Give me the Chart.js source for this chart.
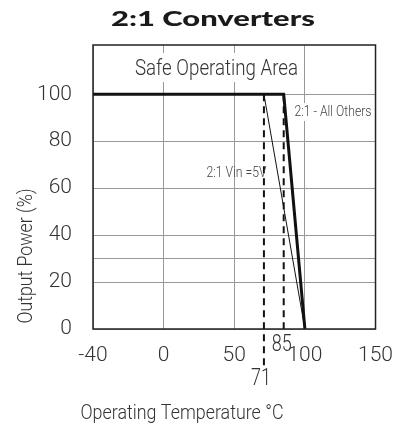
<!DOCTYPE html>
<html>
<head>
<meta charset="utf-8">
<script src="https://cdn.jsdelivr.net/npm/chart.js@4.4.0/dist/chart.umd.min.js"></script>
<style>
  html, body { margin: 0; padding: 0; background: #fff; }
  #wrap { width: 407px; height: 428px; }
</style>
</head>
<body>
<div id="wrap"><canvas id="soa"></canvas></div>
<script>
// tick values on the temperature axis (evenly spaced in the original picture)
const xTicks = [-40, 0, 50, 100, 150];
const yTicks = [0, 20, 30, 40, 60, 80, 100];
const yLabels = ["0", "20", "", "40", "60", "80", "100"];

// derating curves
const allOthersTemp = [-40, 85, 100];
const allOthersPower = [100, 100, 0];
const vin5Temp = [71, 100];
const vin5Power = [100, 0];

// dashed markers
const markerTemp = [71, 85];
const markerBottom = [-16, 0];

const thin = "Roboto, 'DejaVu Sans Condensed', sans-serif";

// linear scale whose ticks are spaced evenly, like the datasheet drawing
class PiecewiseScale extends Chart.LinearScale {
  getPixelForValue(value) {
    let n = xTicks.length - 1;
    let dec;
    if (value <= xTicks[0]) {
      dec = (value - xTicks[0]) / (xTicks[1] - xTicks[0]) / n;
    } else {
      let i = 0;
      while (i < n - 1 && value > xTicks[i + 1]) i++;
      dec = (i + (value - xTicks[i]) / (xTicks[i + 1] - xTicks[i])) / n;
    }
    return this.getPixelForDecimal(dec);
  }
}
PiecewiseScale.id = "piecewise";
PiecewiseScale.defaults = Chart.LinearScale.defaults;
Chart.register(PiecewiseScale);

function pts(xs, ys) {
  return xs.map((x, i) => ({ x: x, y: ys[i] }));
}

// draw centred text squeezed/stretched to a given width
function fitText(ctx, text, cx, cy, font, width, rot) {
  ctx.save();
  ctx.font = font;
  let w = ctx.measureText(text).width;
  ctx.translate(cx, cy);
  if (rot) ctx.rotate(rot);
  ctx.scale(width / w, 1);
  ctx.fillText(text, 0, 0);
  ctx.restore();
}

const textPlugin = {
  id: "texts",
  afterDraw(chart) {
    const ctx = chart.ctx;
    const xs = chart.scales.x;
    const area = chart.chartArea;
    ctx.save();
    ctx.textAlign = "center";
    ctx.textBaseline = "middle";

    // title
    ctx.fillStyle = "#1a1a1a";
    fitText(ctx, "2:1 Converters", 213, 20, "900 20px Lato, 'DejaVu Sans', sans-serif", 204);

    // boxed heading inside the plot
    ctx.fillStyle = "#fff";
    ctx.fillRect(130, 53, 172, 29);
    ctx.fillStyle = "#333";
    fitText(ctx, "Safe Operating Area", 216.5, 69, "300 22px " + thin, 163);

    // curve labels
    ctx.fillStyle = "#fff";
    ctx.fillRect(293, 103, 80, 18);
    ctx.fillStyle = "#444";
    fitText(ctx, "2:1 - All Others", 333, 112, "300 14px " + thin, 77);
    fitText(ctx, "2:1 Vin =5V", 236.5, 173, "300 14px " + thin, 60);

    // marker labels
    ctx.fillStyle = "#333";
    fitText(ctx, "85", xs.getPixelForValue(85) - 2, 345, "300 23px " + thin, 20);
    fitText(ctx, "71", xs.getPixelForValue(71) - 3, 379, "300 23px " + thin, 20);

    // axis titles
    fitText(ctx, "Operating Temperature °C", 182, 414, "300 21px " + thin, 203);
    fitText(ctx, "Output Power (%)", 27, 256, "300 21px " + thin, 135, -Math.PI / 2);

    // plot border
    ctx.strokeStyle = "#222";
    ctx.lineWidth = 1.5;
    ctx.strokeRect(area.left, area.top, area.right - area.left, area.bottom - area.top);
    ctx.restore();
  }
};

new Chart("soa", {
  type: "line",
  data: {
    datasets: [
      {
        label: "2:1 - All Others",
        data: pts(allOthersTemp, allOthersPower),
        borderColor: "#111",
        borderWidth: 3,
        pointRadius: 0,
        tension: 0,
      },
      {
        label: "2:1 Vin =5V",
        data: pts(vin5Temp, vin5Power),
        borderColor: "#111",
        borderWidth: 1,
        pointRadius: 0,
        tension: 0,
      },
      {
        label: "71",
        data: [{ x: markerTemp[0], y: 100 }, { x: markerTemp[0], y: markerBottom[0] }],
        borderColor: "#111",
        borderWidth: 2,
        borderDash: [7, 5],
        pointRadius: 0,
        clip: false,
      },
      {
        label: "85",
        data: [{ x: markerTemp[1], y: 100 }, { x: markerTemp[1], y: markerBottom[1] }],
        borderColor: "#111",
        borderWidth: 2,
        borderDash: [7, 5],
        pointRadius: 0,
      },
    ],
  },
  options: {
    responsive: true,
    maintainAspectRatio: false,
    animation: false,
    layout: { padding: { left: 0, right: 29, top: 45, bottom: 0 } },
    plugins: { legend: { display: false }, tooltip: { enabled: false } },
    scales: {
      x: {
        type: "piecewise",
        min: -40,
        max: 150,
        afterBuildTicks: (s) => { s.ticks = xTicks.map((v) => ({ value: v })); },
        afterFit: (s) => { s.height = 99; },
        grid: { color: "#999", lineWidth: 1, drawTicks: false },
        border: { display: false },
        ticks: {
          color: "#333",
          font: { size: 21, family: thin, weight: 300 },
          padding: 14,
          maxRotation: 0,
          callback: (v) => String(v),
        },
      },
      y: {
        min: 0,
        max: 121,
        afterBuildTicks: (s) => { s.ticks = yTicks.map((v) => ({ value: v })); },
        afterFit: (s) => { s.width = 93; },
        grid: { color: "#999", lineWidth: 1, drawTicks: false },
        border: { display: false },
        ticks: {
          color: "#333",
          font: { size: 21, family: thin, weight: 300 },
          padding: 21,
          callback: (v) => yLabels[yTicks.indexOf(v)],
        },
      },
    },
  },
  plugins: [textPlugin],
});
</script>
</body>
</html>
